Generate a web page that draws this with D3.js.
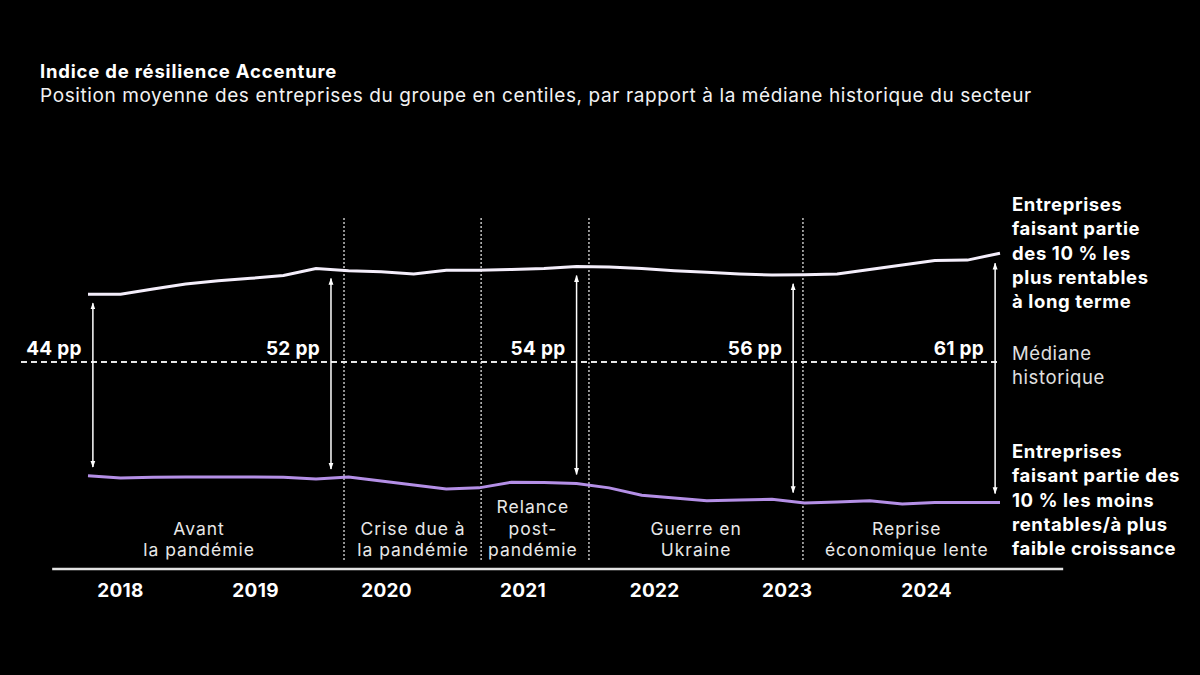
<!DOCTYPE html>
<html lang="fr">
	<head>
		<meta charset="utf-8">
		<title>Indice de résilience Accenture</title>
		<script type="text/javascript" src="https://d3js.org/d3.v7.min.js"></script>
		<style type="text/css">
			body{
				margin: 0;
				background: #000;
			}
			svg text{
				font-family: Inter, "Noto Sans", sans-serif;
			}
		</style>
	</head>
	<body>
		<script type="text/javascript">

			//Width and height
			var w = 1200;
			var h = 675;

			//Data: one point per period index, centiles vs. sector historical median
			var steps = [0, 1, 2, 3, 4, 5, 6, 7, 8, 9, 10, 11, 12, 13, 14,
						 15, 16, 17, 18, 19, 20, 21, 22, 23, 24, 25, 26, 27, 28];

			var topValues = [16.7, 16.7, 18.0, 19.2, 20.0, 20.6, 21.3, 23.0, 22.5, 22.2,
							 21.7, 22.6, 22.6, 22.8, 23.0, 23.5, 23.4, 23.0, 22.5, 22.1,
							 21.7, 21.4, 21.5, 21.7, 22.8, 23.9, 25.0, 25.1, 26.8];

			var bottomValues = [-28.0, -28.6, -28.4, -28.3, -28.3, -28.3, -28.4, -28.8, -28.3, -29.3,
								-30.3, -31.3, -31.0, -29.6, -29.7, -29.9, -31.0, -32.8, -33.5, -34.2,
								-34.0, -33.8, -34.7, -34.5, -34.2, -35.0, -34.6, -34.6, -34.6];

			var years = ["2018", "2019", "2020", "2021", "2022", "2023", "2024"];
			var yearAt = [0.98, 5.13, 9.15, 13.34, 17.38, 21.45, 25.73];

			var breaks = [7.86, 12.07, 15.38, 21.95];

			var periods = [["Avant", "la pandémie"],
						   ["Crise due à", "la pandémie"],
						   ["Relance", "post-", "pandémie"],
						   ["Guerre en", "Ukraine"],
						   ["Reprise", "économique lente"]];
			var periodAt = [3.41, 9.98, 13.66, 18.67, 25.14];

			var gaps = ["44 pp", "52 pp", "54 pp", "56 pp", "61 pp"];
			var gapAt = [0.15, 7.46, 15.0, 21.65, 27.85];

			var topLabel = ["Entreprises", "faisant partie", "des 10 % les", "plus rentables", "à long terme"];
			var bottomLabel = ["Entreprises", "faisant partie des", "10 % les moins", "rentables/à plus", "faible croissance"];
			var medianLabel = ["Médiane", "historique"];

			//Create scale functions
			var xScale = d3.scaleLinear()
								 .domain([0, 28])
								 .range([88, 1000]);

			var yScale = d3.scaleLinear()
								 .domain([-40, 40])
								 .range([524.4, 199.6]);

			//Linear reading of a series between two steps
			function valueAt(arr, t) {
				var i = Math.min(Math.floor(t), arr.length - 2);
				return arr[i] + (arr[i + 1] - arr[i]) * (t - i);
			}

			//Create SVG element
			var svg = d3.select("body")
						.append("svg")
						.attr("width", w)
						.attr("height", h)
						.style("background", "#000");

			//Title
			svg.append("text")
			   .attr("x", 40)
			   .attr("y", 78)
			   .attr("font-size", "18.5px")
			   .attr("letter-spacing", "0.8px")
			   .attr("font-weight", "bold")
			   .attr("fill", "#fff")
			   .text("Indice de résilience Accenture");

			svg.append("text")
			   .attr("x", 40)
			   .attr("y", 102)
			   .attr("font-size", "19px")
			   .attr("letter-spacing", "0.6px")
			   .attr("fill", "#f2f2f2")
			   .text("Position moyenne des entreprises du groupe en centiles, par rapport à la médiane historique du secteur");

			//Period separators
			svg.selectAll("line.break")
			   .data(breaks)
			   .enter()
			   .append("line")
			   .attr("class", "break")
			   .attr("x1", function(d) { return xScale(d); })
			   .attr("x2", function(d) { return xScale(d); })
			   .attr("y1", 218)
			   .attr("y2", 562)
			   .attr("stroke", "#cfcfcf")
			   .attr("stroke-width", 1.4)
			   .attr("stroke-dasharray", "2,2");

			//Median line
			svg.append("line")
			   .attr("x1", 21)
			   .attr("x2", xScale(28))
			   .attr("y1", yScale(0))
			   .attr("y2", yScale(0))
			   .attr("stroke", "#e6e6e6")
			   .attr("stroke-width", 2)
			   .attr("stroke-dasharray", "6,4");

			//Lines
			var line = d3.line()
						 .x(function(d) { return xScale(d[0]); })
						 .y(function(d) { return yScale(d[1]); });

			svg.append("path")
			   .datum(steps.map(function(s, i) { return [s, bottomValues[i]]; }))
			   .attr("d", line)
			   .attr("fill", "none")
			   .attr("stroke", "#b48fe6")
			   .attr("stroke-width", 3);

			svg.append("path")
			   .datum(steps.map(function(s, i) { return [s, topValues[i]]; }))
			   .attr("d", line)
			   .attr("fill", "none")
			   .attr("stroke", "#f4eefb")
			   .attr("stroke-width", 3);

			//Arrow heads
			var defs = svg.append("defs");
			defs.append("marker")
				.attr("id", "head")
				.attr("viewBox", "0 0 10 10")
				.attr("refX", 9)
				.attr("refY", 5)
				.attr("markerUnits", "userSpaceOnUse")
				.attr("markerWidth", 7)
				.attr("markerHeight", 7)
				.attr("orient", "auto-start-reverse")
				.append("path")
				.attr("d", "M0,1.5 L10,5 L0,8.5 Z")
				.attr("fill", "#fff");

			//Gap arrows
			svg.selectAll("line.gap")
			   .data(gapAt)
			   .enter()
			   .append("line")
			   .attr("class", "gap")
			   .attr("x1", function(d) { return xScale(d); })
			   .attr("x2", function(d) { return xScale(d); })
			   .attr("y1", function(d) { return yScale(valueAt(topValues, d)) + 9; })
			   .attr("y2", function(d) { return yScale(valueAt(bottomValues, d)) - 9; })
			   .attr("stroke", "#fff")
			   .attr("stroke-width", 1.5)
			   .attr("marker-start", "url(#head)")
			   .attr("marker-end", "url(#head)");

			//Gap labels
			svg.selectAll("text.gap")
			   .data(gaps)
			   .enter()
			   .append("text")
			   .attr("class", "gap")
			   .text(function(d) { return d; })
			   .attr("x", function(d, i) { return xScale(gapAt[i]) - 11; })
			   .attr("y", yScale(0) - 7)
			   .attr("text-anchor", "end")
			   .attr("font-size", "19px")
			   .attr("letter-spacing", "0.3px")
			   .attr("font-weight", "bold")
			   .attr("fill", "#fff");

			//Period labels
			var periodText = svg.selectAll("text.period")
			   .data(periods)
			   .enter()
			   .append("text")
			   .attr("class", "period")
			   .attr("text-anchor", "middle")
			   .attr("font-size", "17.5px")
			   .attr("letter-spacing", "1px")
			   .attr("fill", "#e8e8e8");

			periodText.selectAll("tspan")
			   .data(function(d, i) {
			   		return d.map(function(t, j) { return {t: t, x: periodAt[i], row: j, n: d.length}; });
			   })
			   .enter()
			   .append("tspan")
			   .attr("x", function(d) { return xScale(d.x); })
			   .attr("y", function(d) { return 556 - (d.n - 1 - d.row) * 21.3; })
			   .text(function(d) { return d.t; });

			//Series labels
			function block(lines, y0, weight, color) {
				svg.append("text")
				   .attr("font-size", "18.5px")
				   .attr("letter-spacing", "0.6px")
				   .attr("font-weight", weight)
				   .attr("fill", color)
				   .selectAll("tspan")
				   .data(lines)
				   .enter()
				   .append("tspan")
				   .attr("x", 1012)
				   .attr("y", function(d, i) { return y0 + i * 24.3; })
				   .text(function(d) { return d; });
			}
			block(topLabel, 211, "bold", "#fff");
			block(bottomLabel, 458, "bold", "#fff");
			block(medianLabel, 360, "normal", "#e0e0e0");

			//X axis
			svg.append("line")
			   .attr("x1", xScale(-1.1))
			   .attr("x2", xScale(29.94))
			   .attr("y1", 569)
			   .attr("y2", 569)
			   .attr("stroke", "#e2e2e2")
			   .attr("stroke-width", 2.5);

			var xAxis = d3.axisBottom(xScale)
						  .tickValues(yearAt)
						  .tickSize(0)
						  .tickPadding(0)
						  .tickFormat(function(d, i) { return years[i]; });

			var axisG = svg.append("g")
						   .attr("transform", "translate(0,583)")
						   .call(xAxis);

			axisG.select(".domain").remove();
			axisG.selectAll("text")
				 .attr("font-family", "Inter, sans-serif")
				 .attr("font-size", "19px")
				 .attr("letter-spacing", "0.3px")
				 .attr("font-weight", "bold")
				 .attr("fill", "#fff");

		</script>
	</body>
</html>
